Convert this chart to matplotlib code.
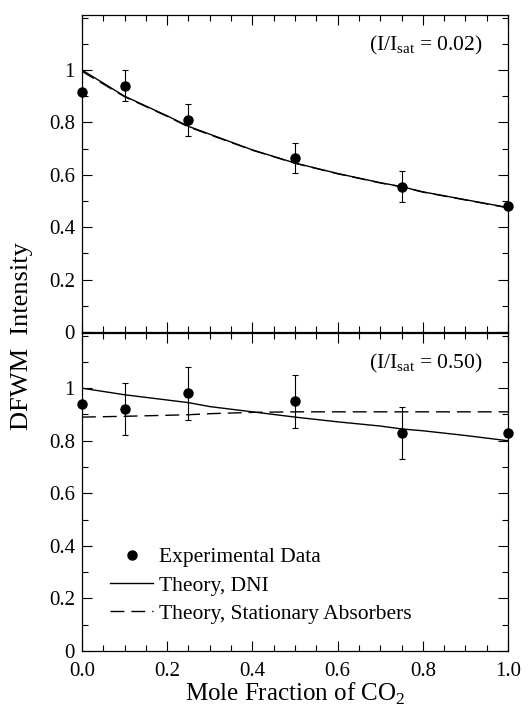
import matplotlib.pyplot as plt
from matplotlib.ticker import MultipleLocator, FixedLocator
from matplotlib.lines import Line2D

plt.rcParams['font.family'] = 'Liberation Serif'
plt.rcParams['mathtext.fontset'] = 'custom'
plt.rcParams['mathtext.rm'] = 'Liberation Serif'

# mole fraction of CO2
x = [0.0, 0.1, 0.25, 0.5, 0.75, 1.0]

# I/Isat = 0.02
y_low = [0.915, 0.94, 0.81, 0.665, 0.555, 0.48]
err_low = [0.0, 0.06, 0.06, 0.058, 0.06, 0.0]
xt = [0.0, 0.1, 0.2, 0.25, 0.3, 0.4, 0.5, 0.6, 0.7, 0.75, 0.8, 0.9, 1.0]
dni_low = [1.0, 0.90, 0.825, 0.785, 0.755, 0.695, 0.645, 0.605, 0.57, 0.555, 0.535, 0.505, 0.475]
sa_low = [0.995, 0.898, 0.823, 0.783, 0.753, 0.694, 0.644, 0.604, 0.569, 0.554, 0.534, 0.504, 0.474]

# I/Isat = 0.50
y_high = [0.94, 0.92, 0.98, 0.95, 0.83, 0.83]
err_high = [0.0, 0.10, 0.10, 0.10, 0.10, 0.0]
dni_high = [1.0, 0.975, 0.955, 0.945, 0.93, 0.91, 0.89, 0.872, 0.856, 0.845, 0.838, 0.82, 0.80]
sa_high = [0.89, 0.893, 0.897, 0.899, 0.903, 0.908, 0.91, 0.91, 0.91, 0.91, 0.91, 0.91, 0.91]

xticks = [0.0, 0.2, 0.4, 0.6, 0.8, 1.0]
xticklabels = ['0.0', '0.2', '0.4', '0.6', '0.8', '1.0']
yticks = [0, 0.2, 0.4, 0.6, 0.8, 1.0]
yticklabels = ['0', '0.2', '0.4', '0.6', '0.8', '1']

fig = plt.figure(figsize=(5.31, 7.07), dpi=100)
ax1 = fig.add_axes([0.1544, 0.5304, 0.8023, 0.4484])
ax2 = fig.add_axes([0.1544, 0.0792, 0.8023, 0.4498])

for ax, y, e, dni, sa, lab in [(ax1, y_low, err_low, dni_low, sa_low, '0.02'),
                               (ax2, y_high, err_high, dni_high, sa_high, '0.50')]:
    ax.plot(xt, dni, '-', color='black', lw=1.0)
    ax.plot(xt, sa, '--', color='black', lw=1.0, dashes=(10, 5))
    ax.errorbar(x, y, yerr=e, fmt='o', color='black', ms=6.5, elinewidth=0.8,
                capsize=2.5, capthick=0.8, clip_on=False, zorder=5)
    ax.set_xlim(0, 1.0)
    ax.set_ylim(0, 1.21)
    ax.yaxis.set_major_locator(FixedLocator(yticks))
    ax.set_yticklabels(yticklabels)
    ax.yaxis.set_minor_locator(MultipleLocator(0.1))
    ax.xaxis.set_major_locator(FixedLocator(xticks))
    ax.xaxis.set_minor_locator(MultipleLocator(0.05))
    ax.tick_params(which='both', direction='in', top=True, right=True, labelsize=15, width=0.8)
    ax.tick_params(which='major', length=7)
    ax.tick_params(which='minor', length=4)
    ax.tick_params(axis='y', which='major', pad=5)
    for s in ax.spines.values():
        s.set_linewidth(0.9)
    ax.text(0.94, 0.905, r'(I/I$_{\mathrm{sat}}$ = ' + lab + ')', transform=ax.transAxes,
            ha='right', va='center', fontsize=15.5)

ax1.tick_params(labelbottom=False)
ax2.set_xticklabels(xticklabels)
ax2.tick_params(axis='x', which='major', pad=8)
ax2.set_xlabel(r'Mole Fraction of CO$_2$', fontsize=18, labelpad=0)
fig.text(0.042, 0.525, 'DFWM  Intensity', rotation=90, ha='center', va='center', fontsize=19)

handles = [Line2D([], [], ls='none', marker='o', color='black', ms=6.5),
           Line2D([], [], ls='-', color='black', lw=1.0),
           Line2D([], [], ls='--', color='black', lw=1.0, dashes=(10, 5))]
labels = ['Experimental Data', 'Theory, DNI', 'Theory, Stationary Absorbers']
ax2.legend(handles, labels, loc='lower left', frameon=False, fontsize=15.5,
           bbox_to_anchor=(0.066, 0.085), borderaxespad=0, borderpad=0,
           handlelength=2.0, handletextpad=0.25, labelspacing=0.38)

fig.savefig('out.png', dpi=100)
